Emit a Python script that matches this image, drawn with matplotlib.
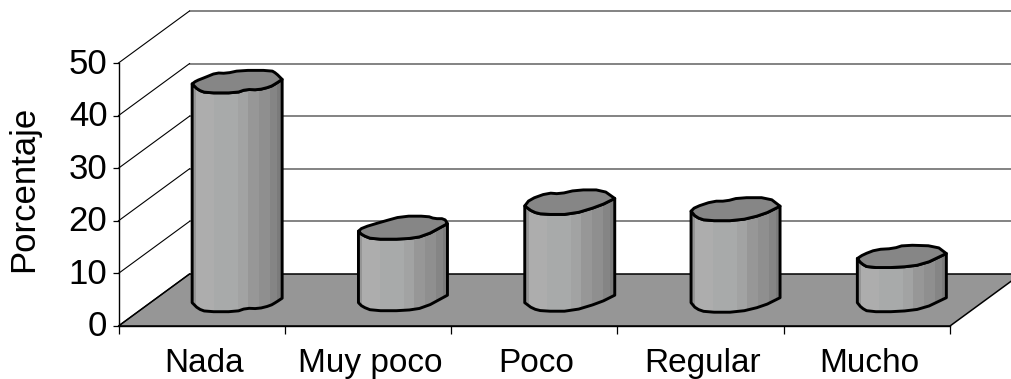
import numpy as np
import matplotlib
matplotlib.use("Agg")
from matplotlib import pyplot as plt
from matplotlib.patches import Polygon, Rectangle
from matplotlib.transforms import ScaledTranslation

plt.rcParams['font.family'] = ['Liberation Sans', 'DejaVu Sans']

categories = ["Nada", "Muy poco", "Poco", "Regular", "Mucho"]
values = [41.6, 13.6, 18.4, 17.4, 8.4]
yticks = [0, 10, 20, 30, 40, 50]

# 3d look: how far the back wall is shifted, in data units
DEPTH_X = 71 / 166.3
DEPTH_Y = 52 / 5.26
PX_X = 1 / 166.3
PX_Y = 1 / 5.26

# wobbly cylinder caps, px from the left point (x right, y up)
caps_top = [
    [(0, 0), (4, 3), (13, 6.5), (24, 11), (34, 10.5), (48, 13.5), (79, 13.5), (84, 10.5), (90, 4.5)],
    [(0, 0), (4, 3.5), (24, 9.5), (44, 15), (69, 15), (76, 12.5), (86, 12.5), (89, 7.5)],
    [(0, 0), (5, 6.5), (23, 13), (35, 12), (52, 16), (78, 16), (90, 7.5)],
    [(0, 0), (4, 4), (22, 10), (35, 10), (48, 13.5), (78, 13.5), (89, 5)],
    [(0, 0), (6, 4), (19, 9), (36, 10), (47, 13.5), (79, 12.5), (89, 5)],
]
caps_low = [
    [(90, 4.5), (84, 0.5), (78, -3), (66, -6), (54, -5.5), (44, -9), (14, -9), (6, -6), (0, 0)],
    [(89, 7.5), (66, -5), (46, -8), (14, -8), (4, -4), (0, 0)],
    [(90, 7.5), (75, 0), (47, -8.5), (18, -8.5), (8, -6), (0, 0)],
    [(89, 5), (72, -3.5), (47, -9.5), (15, -9.5), (5, -6), (0, 0)],
    [(89, 5), (66, -6), (41, -9), (11, -9), (4, -5), (0, 0)],
]

bands = [(0, 4, "#959595"), (4, 22, "#adadad"), (22, 46, "#a8aaaa"),
         (46, 56, "#a2a3a3"), (56, 67, "#979797"), (67, 78, "#8f8f8f"),
         (78, 85, "#858585"), (85, 90, "#7b7b7b")]


def round_corners(pts):
    # one pass of corner cutting, end points stay put
    out = [pts[0]]
    for a, b in zip(pts[:-1], pts[1:]):
        out.append((0.75 * a[0] + 0.25 * b[0], 0.75 * a[1] + 0.25 * b[1]))
        out.append((0.25 * a[0] + 0.75 * b[0], 0.25 * a[1] + 0.75 * b[1]))
    out.append(pts[-1])
    return out


fig = plt.figure(figsize=(10.11, 3.79), dpi=100)
ax = fig.add_axes([118.5 / 1011, 53 / 379, 831.5 / 1011, 263 / 379])
ax.set_xlim(0, 5)
ax.set_ylim(0, 50)
ax.patch.set_visible(False)

# floor
ax.add_patch(Polygon([(0, 0), (5, 0), (5 + DEPTH_X, DEPTH_Y), (DEPTH_X, DEPTH_Y)],
                     closed=True, fc="#969696", ec="black", lw=1.1,
                     clip_on=False, zorder=1))

# walls
for v in yticks:
    ax.plot([0, DEPTH_X], [v, v + DEPTH_Y], color="black", lw=0.8,
            clip_on=False, zorder=1.5)
    if v > 0:
        ax.plot([DEPTH_X, 5 + DEPTH_X], [v + DEPTH_Y, v + DEPTH_Y],
                color="#6e6e6e", lw=1.2, clip_on=False, zorder=0.5)

# cylinders
for i, val in enumerate(values):
    left = i + 0.5 - 45 * PX_X + DEPTH_X / 2
    base = DEPTH_Y / 2 - 2.7 * PX_Y
    top = base + val
    low = [(left + x * PX_X, y * PX_Y) for x, y in round_corners(caps_low[i])]
    upper = [(left + x * PX_X, y * PX_Y) for x, y in round_corners(caps_top[i])]
    outline = ([(x, y + top) for x, y in low[::-1]]
               + [(x, y + base) for x, y in low])
    body = Polygon(outline, closed=True, fc="none", ec="black", lw=2.1,
                   clip_on=False, zorder=4, joinstyle="round")
    clip = Polygon(outline, closed=True, transform=ax.transData)
    for x0, x1, col in bands:
        r = Rectangle((left + x0 * PX_X, base - 3), (x1 - x0) * PX_X, val + 6,
                      fc=col, ec="none", clip_on=True, zorder=3)
        ax.add_patch(r)
        r.set_clip_path(clip)
    ax.add_patch(body)
    cap = [(x, y + top) for x, y in upper] + [(x, y + top) for x, y in low[1:]]
    ax.add_patch(Polygon(cap, closed=True, fc="#868686", ec="black", lw=2.1,
                         clip_on=False, zorder=5, joinstyle="round"))

# axes
for s in ("top", "right"):
    ax.spines[s].set_visible(False)
ax.spines["left"].set_linewidth(1.0)
ax.spines["bottom"].set_linewidth(1.0)
ax.spines["left"].set_zorder(2)
ax.spines["bottom"].set_zorder(2)

ax.set_yticks(yticks)
ax.tick_params(axis="y", labelsize=25, length=4, width=0.9, pad=4)
ax.set_xticks(range(6))
ax.set_xticklabels([])
ax.tick_params(axis="x", which="major", length=5.5, width=0.9)
ax.set_xticks([i + 0.5 for i in range(5)], minor=True)
ax.set_xticklabels(categories, minor=True)
ax.tick_params(axis="x", which="minor", length=0, labelsize=24, pad=16)
ax.set_ylabel("Porcentaje", fontsize=25)
ax.yaxis.set_label_coords(-0.0943, 0.523)

# nudge tick labels a little
for lab in ax.get_yticklabels():
    lab.set_transform(lab.get_transform() + ScaledTranslation(0, 2.5 / 100, fig.dpi_scale_trans))
for lab in ax.get_xticklabels(minor=True):
    lab.set_transform(lab.get_transform() + ScaledTranslation(2 / 100, 0, fig.dpi_scale_trans))

fig.savefig("out.png", dpi=100)
